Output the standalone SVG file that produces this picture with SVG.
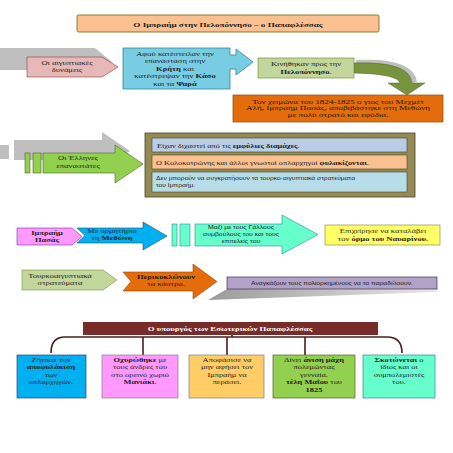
<svg xmlns="http://www.w3.org/2000/svg" width="453" height="453" viewBox="0 0 453 453">
<defs>
<style>
.t{font-family:"Liberation Serif","Times New Roman",serif;font-size:7px;fill:#1a1a1a;text-anchor:middle}
.ts{font-family:"Liberation Sans",Arial,sans-serif;font-size:6px;fill:#1a1a1a;text-anchor:middle}
.l{text-anchor:start}
.b{font-weight:bold}
.sh{fill:#BFBFBF}
</style>
<linearGradient id="shg" x1="0" y1="0" x2="1" y2="0">
<stop offset="0" stop-color="#9A9A9A"/>
<stop offset="1" stop-color="#E8E8E8"/>
</linearGradient>
</defs>
<rect width="453" height="453" fill="#fff"/>

<g id="title">
<rect x="77" y="15" width="302" height="17" rx="1.5" fill="#FAC090" stroke="#7F6000" stroke-width="0.8"/>
<text class="t b" font-size="8" transform="translate(228,27) scale(1.3,1)">Ο Ιμπραήμ στην Πελοπόννησο – ο Παπαφλέσσας</text>
</g>

<g id="connectors">
<path class="sh" d="M356,60 Q414,57 417,82 L412,83 Q409,62 356,63 Z"/>
<path d="M354,63 Q410,61 412,83 L425,83 L407,95 L388,83 L400,83 Q398,74 354,73 Z" fill="#77933C" stroke="#4F6228" stroke-width="0.5"/>
<path d="M232,335 V337 H65 Q51,337 51,353 M143,337 V355 M227,337 V355 M305,337 V355 M232,337 H387 Q402,337 402,353" fill="none" stroke="#4A1E1C" stroke-width="1.6"/>
</g>

<g id="n-aigyptiakes">
<path class="sh" d="M0,48 H95 L112,62 L100,70 H0 Z"/>
<path d="M27,57 H102 L118,67 L102,77 H27 Z" fill="#E6B9B8" stroke="#953735" stroke-width="0.6"/>
<text class="t" transform="translate(67,65) scale(1.22,1)"><tspan x="0">Οι αιγυπτιακές</tspan><tspan x="0" dy="7.5">δυνάμεις</tspan></text>
</g>

<g id="n-kriti">
<path d="M123,48 H230 V55 H236 V49 L253,62 L236,75 V69 H230 V89 H123 Z" fill="#78CDE3" stroke="#31859C" stroke-width="0.8"/>
<text class="t" transform="translate(175,56) scale(1.22,1)"><tspan x="0">Αφού κατέστειλαν την</tspan><tspan x="0" dy="7.5">επανάσταση στην</tspan><tspan x="0" dy="7.5"><tspan class="b">Κρήτη</tspan> και</tspan><tspan x="0" dy="7.5">κατέστρεψαν την <tspan class="b">Κάσο</tspan></tspan><tspan x="0" dy="7.5">και τα <tspan class="b">Ψαρά</tspan></tspan></text>
</g>

<g id="n-kinithikan">
<rect x="258" y="58" width="96" height="20" fill="#C3D69B" stroke="#77933C" stroke-width="0.7"/>
<text class="t" transform="translate(306,66) scale(1.22,1)"><tspan x="0">Κινήθηκαν προς την</tspan><tspan x="0" dy="8"><tspan class="b">Πελοπόννησο</tspan>.</tspan></text>
</g>

<g id="n-xeimonas">
<rect x="233" y="95" width="210" height="27" fill="#E46C0A" stroke="#984807" stroke-width="0.7"/>
<text class="t" transform="translate(338,103.5) scale(1.3,1)"><tspan x="0">Τον χειμώνα του 1824-1825 ο γιος του Μεχμέτ</tspan><tspan x="0" dy="7">Αλή, Ιμπραήμ Πασάς, αποβιβάστηκε στη Μεθώνη</tspan><tspan x="0" dy="7">με πολύ στρατό και εφόδια.</tspan></text>
</g>

<g id="n-ellines">
<rect class="sh" x="0" y="145" width="9" height="14"/>
<path class="sh" d="M14,140 H102 V132 L130,151 L102,170 V160 H14 Z"/>
<rect x="25" y="153" width="5" height="20" fill="#92D050" stroke="#4F6228" stroke-width="0.6"/>
<rect x="33" y="153" width="8" height="20" fill="#92D050" stroke="#4F6228" stroke-width="0.6"/>
<path d="M43,153 H115 V145 L143,164 L115,183 V173 H43 Z" fill="#92D050" stroke="#4F6228" stroke-width="0.6"/>
<text class="t" transform="translate(78,160) scale(1.22,1)"><tspan x="0">Οι Έλληνες</tspan><tspan x="0" dy="8">επαναστάτες</tspan></text>
</g>

<g id="n-plaisio">
<rect x="145" y="133" width="270" height="64" fill="#948A54" stroke="#4A452A" stroke-width="0.8"/>
<rect x="152" y="138" width="255" height="14" fill="#B9CDE5" stroke="#4A452A" stroke-width="0.6"/>
<text class="t l" transform="translate(157,147.5) scale(1.18,1)">Είχαν διχαστεί από τις <tspan class="b">εμφύλιες διαμάχες</tspan>.</text>
<rect x="152" y="155" width="255" height="14" fill="#FAC090" stroke="#4A452A" stroke-width="0.6"/>
<text class="t l" transform="translate(156,164.5) scale(1.18,1)">Ο Κολοκοτρώνης και άλλοι γνωστοί οπλαρχηγοί <tspan class="b">φυλακίζονται</tspan>.</text>
<rect x="152" y="172" width="255" height="20" fill="#B7DEE8" stroke="#4A452A" stroke-width="0.6"/>
<text class="ts l" transform="translate(156,180) scale(1.12,1)"><tspan x="0">Δεν μπορούν να συγκρατήσουν τα τουρκο-αιγυπτιακά στρατεύματα</tspan><tspan x="0" dy="7">του Ιμπραήμ.</tspan></text>
</g>

<g id="n-ibrahim">
<path d="M17,228 H72 L82,236.5 L72,245 H17 Z" fill="#FF99FF" stroke="#7030A0" stroke-width="0.6"/>
<text class="t b" transform="translate(47,235) scale(1.2,1)"><tspan x="0">Ιμπραήμ</tspan><tspan x="0" dy="7.5">Πασάς</tspan></text>
</g>

<g id="n-methoni">
<path d="M77,228 H143 V222 L167,236 L143,250 V243 H77 L85,235.5 Z" fill="#00B0F0" stroke="#1F497D" stroke-width="0.6"/>
<text class="t" transform="translate(112,233) scale(1.22,1)"><tspan x="0">Με ορμητήριο</tspan><tspan x="0" dy="7.5">τη <tspan class="b">Μεθώνη</tspan></tspan></text>
</g>

<g id="n-gallous">
<rect x="172" y="224" width="5" height="22" fill="#66FFCC" stroke="#31859C" stroke-width="0.6"/>
<rect x="180" y="224" width="10" height="22" fill="#66FFCC" stroke="#31859C" stroke-width="0.6"/>
<path d="M195,224 H282 V215 L318,234.5 L282,254 V246 H195 Z" fill="#66FFCC" stroke="#31859C" stroke-width="0.6"/>
<text class="ts" transform="translate(241,229) scale(1.15,1)"><tspan x="0">Μαζί με τους Γάλλους</tspan><tspan x="0" dy="7">συμβούλους του και τους</tspan><tspan x="0" dy="7">επιτελείς του</tspan></text>
</g>

<g id="n-navarino">
<rect x="325" y="225" width="115" height="20" fill="#FFFF66" stroke="#948A54" stroke-width="0.7"/>
<text class="t" transform="translate(383,233) scale(1.22,1)"><tspan x="0">Επιχείρησε να καταλάβει</tspan><tspan x="0" dy="8">τον <tspan class="b">όρμο του Ναυαρίνου</tspan>.</tspan></text>
</g>

<g id="n-tourkoaig">
<path d="M22,270 H103 L117,280 L103,290 H22 Z" fill="#C3D69B" stroke="#77933C" stroke-width="0.6"/>
<text class="t" transform="translate(60,277.5) scale(1.22,1)"><tspan x="0">Τουρκοαιγυπτιακά</tspan><tspan x="0" dy="8">στρατεύματα</tspan></text>
</g>

<g id="n-kastra">
<path d="M123,272 H193 V264 L217,281.5 L193,299 V291 H123 L131,281.5 Z" fill="#E46C0A" stroke="#984807" stroke-width="0.6"/>
<text class="t" transform="translate(166,278.5) scale(1.22,1)"><tspan x="0" class="b">Περικυκλώνουν</tspan><tspan x="0" dy="8">τα κάστρα.</tspan></text>
</g>

<g id="n-anagkazoun">
<path d="M227,289 H437 V292 L208,300 Z" fill="url(#shg)"/>
<rect x="227" y="277" width="210" height="12" fill="#B3A2C7" stroke="#403152" stroke-width="0.7"/>
<text class="ts" transform="translate(332,285.3) scale(1.12,1)">Αναγκάζουν τους πολιορκημένους να τα παραδώσουν.</text>
</g>

<g id="n-ypourgos">
<rect x="83" y="322" width="295" height="13" fill="#772C2A"/>
<text class="t b" font-size="7.5" style="fill:#fff" transform="translate(230,331.3) scale(1.25,1)">Ο υπουργός των Εσωτερικών Παπαφλέσσας</text>
</g>

<g id="n-apofylakisi">
<rect x="17" y="355" width="69" height="43" fill="#00B0F0" stroke="#1F497D" stroke-width="0.7"/>
<text class="t" transform="translate(51,362) scale(1.2,1)"><tspan x="0">Ζήτησε την</tspan><tspan x="0" dy="7.5" class="b">αποφυλάκιση</tspan><tspan x="0" dy="7.5">των</tspan><tspan x="0" dy="7.5">οπλαρχηγών.</tspan></text>
</g>

<g id="n-maniaki">
<rect x="102" y="355" width="76" height="43" fill="#FF99FF" stroke="#7F7F7F" stroke-width="0.7"/>
<text class="t" transform="translate(140,362) scale(1.2,1)"><tspan x="0"><tspan class="b">Οχυρώθηκε</tspan> με</tspan><tspan x="0" dy="7.5">τους άνδρες του</tspan><tspan x="0" dy="7.5">στο ορεινό χωριό</tspan><tspan x="0" dy="7.5"><tspan class="b">Μανιάκι</tspan>.</tspan></text>
</g>

<g id="n-apofasise">
<rect x="189" y="355" width="75" height="43" fill="#FFCC66" stroke="#7F7F7F" stroke-width="0.7"/>
<text class="t" transform="translate(227,362) scale(1.2,1)"><tspan x="0">Αποφάσισε να</tspan><tspan x="0" dy="7.5">μην αφήσει τον</tspan><tspan x="0" dy="7.5">Ιμπραήμ να</tspan><tspan x="0" dy="7.5">περάσει.</tspan></text>
</g>

<g id="n-maxi">
<rect x="273" y="355" width="82" height="43" fill="#92D050" stroke="#4F6228" stroke-width="0.7"/>
<text class="t" transform="translate(314,362) scale(1.2,1)"><tspan x="0">Δίνει <tspan class="b">άνιση μάχη</tspan></tspan><tspan x="0" dy="7.5">πολεμώντας</tspan><tspan x="0" dy="7.5">γενναία.</tspan><tspan x="0" dy="7.5"><tspan class="b">τέλη Μαΐου</tspan> του</tspan><tspan x="0" dy="7.5" class="b">1825</tspan></text>
</g>

<g id="n-skotonetai">
<rect x="363" y="355" width="72" height="43" fill="#66FFCC" stroke="#31859C" stroke-width="0.7"/>
<text class="t" transform="translate(399,362) scale(1.2,1)"><tspan x="0"><tspan class="b">Σκοτώνεται</tspan> ο</tspan><tspan x="0" dy="7.5">ίδιος και οι</tspan><tspan x="0" dy="7.5">συμπολεμιστές</tspan><tspan x="0" dy="7.5">του.</tspan></text>
</g>
</svg>
